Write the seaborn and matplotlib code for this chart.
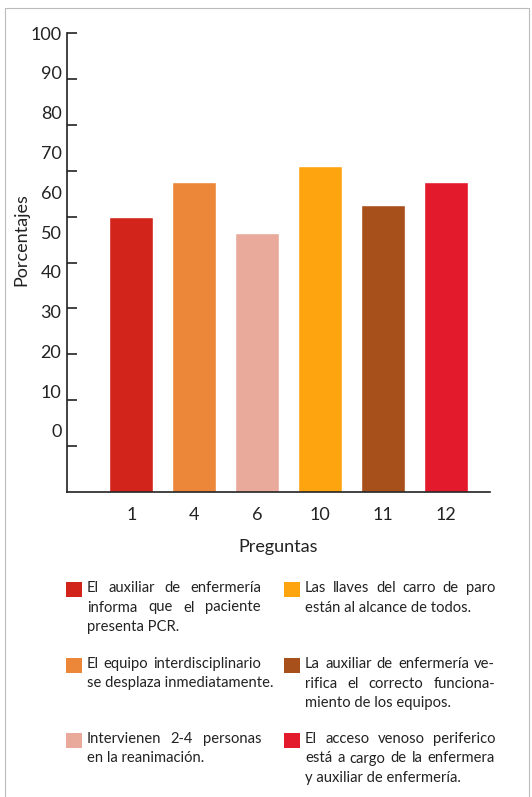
import matplotlib
matplotlib.use("Agg")
import matplotlib.pyplot as plt
from matplotlib.patches import Rectangle
import seaborn as sns
import pandas as pd

# Data
preguntas = ["1", "4", "6", "10", "11", "12"]
porcentajes = [60, 67.5, 56.5, 71, 62.5, 67.5]
colores = ["#D3241B", "#EC873A", "#E9AA9C", "#FDA40E", "#A8501B", "#E31A2B"]
y_labels = [100, 90, 80, 70, 60, 50, 40, 30, 20, 10, 0]
descripciones = [
    ["El auxiliar de enfermería", "informa que el paciente", "presenta PCR."],
    ["El equipo interdisciplinario", "se desplaza inmediatamente."],
    ["Intervienen 2-4 personas", "en la reanimación."],
    ["Las llaves del carro de paro", "están al alcance de todos."],
    ["La auxiliar de enfermería ve-", "rifica el correcto funciona-", "miento de los equipos."],
    ["El acceso venoso periferico", "está a cargo de la enfermera", "y auxiliar de enfermería."],
]

sns.set_theme(style="ticks")
plt.rcParams["font.family"] = ["Lato", "DejaVu Sans"]

df = pd.DataFrame({"pregunta": preguntas, "valor": porcentajes})

W, H = 532, 797
fig = plt.figure(figsize=(W / 100, H / 100), dpi=100)
ax = fig.add_axes([67 / W, 1 - 492 / H, (490 - 67) / W, (492 - 33) / H])

sns.barplot(data=df, x="pregunta", y="valor", hue="pregunta", palette=colores,
            order=preguntas, hue_order=preguntas, legend=False, width=0.70,
            saturation=1, ax=ax)

ax.set_xlim(-1.02, 5.70)
ax.set_ylim(0, 100.01)

# Tick marks every 10 units, pointing inward
ax.yaxis.remove_overlapping_locs = False
ax.set_yticks(range(10, 101, 10))
ax.set_yticklabels([])
ax.tick_params(axis="y", which="major", direction="in", length=7, width=1.2, color="#222222")
# Value labels set along the axis on their own scale
ax.set_yticks([13.3 + 0.867 * v for v in y_labels], minor=True)
ax.set_yticklabels([str(v) for v in y_labels], minor=True)
ax.tick_params(axis="y", which="minor", length=0, pad=4, labelsize=13, labelcolor="#222222")

ax.tick_params(axis="x", length=0, pad=11, labelsize=13, labelcolor="#222222")
ax.set_xlabel("Preguntas", fontsize=13, color="#222222", labelpad=11)
ax.set_ylabel("Porcentajes", fontsize=13, color="#222222")
ax.yaxis.set_label_coords(-0.088, 0.55)

for side in ["top", "right"]:
    ax.spines[side].set_visible(False)
for side in ["left", "bottom"]:
    ax.spines[side].set_color("#222222")
    ax.spines[side].set_linewidth(1.2)

# Legend block: colored squares with justified descriptions, two columns
renderer = fig.canvas.get_renderer()
col_x = [66, 284]
col_w = [174, 190]
row_y = [582, 658, 733]
fs = 10.6


def word_width(word):
    t = fig.text(0, 0, word, fontsize=fs)
    w = t.get_window_extent(renderer).width
    t.remove()
    return w


for i, (color, lines) in enumerate(zip(colores, descripciones)):
    col, row = divmod(i, 3)
    x0, y0 = col_x[col], row_y[row]
    fig.patches.append(Rectangle((x0 / W, 1 - (y0 + 15) / H), 16 / W, 15 / H,
                                 transform=fig.transFigure, color=color, lw=0))
    tx = x0 + 21
    for j, line in enumerate(lines):
        ty = 1 - (y0 + 6 + 19.5 * j) / H
        words = line.split(" ")
        last = j == len(lines) - 1
        if last or len(words) == 1:
            fig.text(tx / W, ty, line, fontsize=fs, color="#222222", va="center", ha="left")
            continue
        widths = [word_width(w) for w in words]
        gap = (col_w[col] - sum(widths)) / (len(words) - 1)
        gap = max(gap, 3.0)
        x = tx
        for w, wd in zip(words, widths):
            fig.text(x / W, ty, w, fontsize=fs, color="#222222", va="center", ha="left")
            x += wd + gap

# Thin page frame
frame = Rectangle((5 / W, -0.01), (529 - 5) / W, 1 - 8 / H + 0.01,
                  transform=fig.transFigure, fill=False, lw=0.8, ec="#BBBBBB")
fig.patches.append(frame)

fig.savefig("out.png", dpi=100)
